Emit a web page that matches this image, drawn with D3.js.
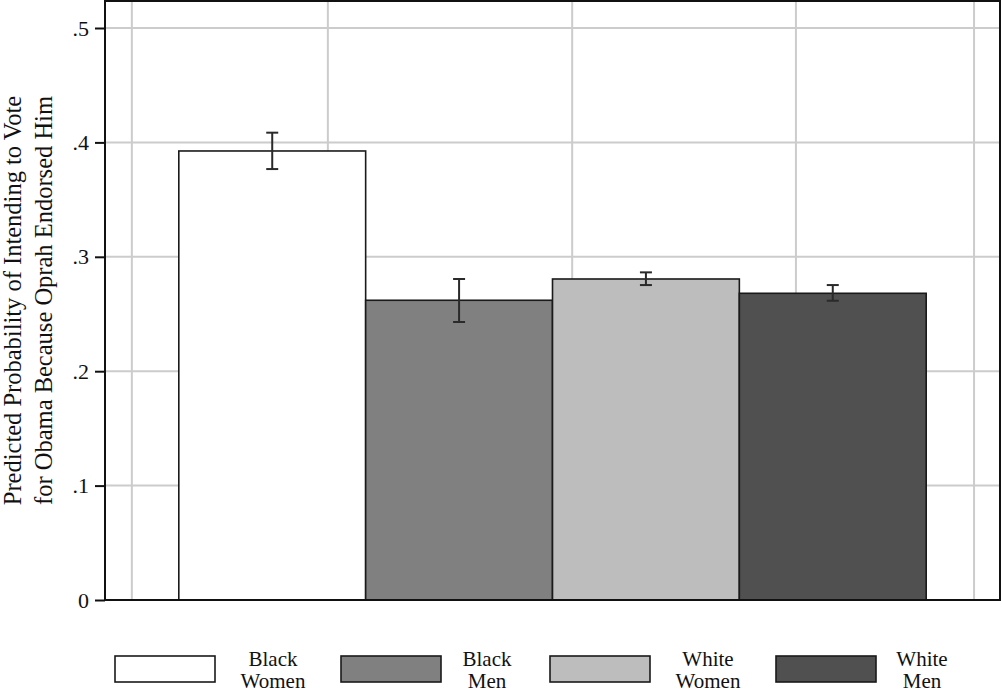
<!DOCTYPE html>
<html>
<head>
<meta charset="utf-8">
<script src="https://cdnjs.cloudflare.com/ajax/libs/d3/7.8.5/d3.min.js"></script>
<style>
  body { margin: 0; background: #fff; }
  svg { display: block; }
</style>
</head>
<body>
<div id="chart"><svg></svg></div>
<script>
(function() {

  var width = 1002, height = 690;
  var margin = { top: 1, left: 105, right: 2, bottom: 90 };
  var serif = "'Liberation Serif', 'Times New Roman', 'DejaVu Serif', serif";

  // data
  var groups = ["Black Women", "Black Men", "White Women", "White Men"];
  var estimates = [0.3925, 0.262, 0.2806, 0.2681];
  var ciLow = [0.3767, 0.243, 0.2753, 0.2616];
  var ciHigh = [0.4085, 0.2806, 0.2864, 0.2753];
  var yTicks = [0, 0.1, 0.2, 0.3, 0.4, 0.5];
  var yTickLabels = ["0", ".1", ".2", ".3", ".4", ".5"];
  var fills = ["#ffffff", "#808080", "#bdbdbd", "#505050"];

  var plotW = width - margin.left - margin.right;
  var plotH = 600 - margin.top;

  var svg = d3.select("#chart").select("svg")
    .attr("width", width)
    .attr("height", height)
    .attr("font-family", serif);

  var g = svg.append("g")
    .attr("transform", "translate(" + margin.left + "," + margin.top + ")");

  var yScale = d3.scaleLinear()
    .domain([0, 0.5])
    .range([plotH, 28 - margin.top]);

  var xBand = d3.scaleBand()
    .domain(groups)
    .range([0, plotW])
    .paddingInner(0)
    .paddingOuter(0.395);

  // vertical grid lines (placed unevenly in the original)
  var xGrid = d3.scaleLinear().domain([0, 1]).range([0, plotW]);
  var gridX = [0.030, 0.249, 0.522, 0.772, 0.971];

  g.append("g").attr("class", "grid-x")
    .selectAll("line")
    .data(gridX)
    .enter().append("line")
    .attr("x1", function(d) { return xGrid(d); })
    .attr("x2", function(d) { return xGrid(d); })
    .attr("y1", 0)
    .attr("y2", plotH)
    .attr("stroke", "#cccccc")
    .attr("stroke-width", 2);

  g.append("g").attr("class", "grid-y")
    .selectAll("line")
    .data(yTicks.slice(1))
    .enter().append("line")
    .attr("x1", 0)
    .attr("x2", plotW)
    .attr("y1", function(d) { return yScale(d); })
    .attr("y2", function(d) { return yScale(d); })
    .attr("stroke", "#cccccc")
    .attr("stroke-width", 2);

  // bars
  g.selectAll("rect.bar")
    .data(groups)
    .enter().append("rect")
    .attr("class", "bar")
    .attr("x", function(d) { return xBand(d); })
    .attr("width", xBand.bandwidth())
    .attr("y", function(d, i) { return yScale(estimates[i]); })
    .attr("height", function(d, i) { return plotH - yScale(estimates[i]); })
    .attr("fill", function(d, i) { return fills[i]; })
    .attr("stroke", "#1a1a1a")
    .attr("stroke-width", 1.6);

  // error bars
  var capHalf = 6;
  var err = g.append("g").attr("class", "errors")
    .selectAll("g")
    .data(groups)
    .enter().append("g")
    .attr("stroke", "#2a2a2a")
    .attr("stroke-width", 2);

  err.append("line")
    .attr("x1", function(d) { return xBand(d) + xBand.bandwidth() / 2; })
    .attr("x2", function(d) { return xBand(d) + xBand.bandwidth() / 2; })
    .attr("y1", function(d, i) { return yScale(ciLow[i]); })
    .attr("y2", function(d, i) { return yScale(ciHigh[i]); });

  [ciLow, ciHigh].forEach(function(arr) {
    err.append("line")
      .attr("x1", function(d) { return xBand(d) + xBand.bandwidth() / 2 - capHalf; })
      .attr("x2", function(d) { return xBand(d) + xBand.bandwidth() / 2 + capHalf; })
      .attr("y1", function(d, i) { return yScale(arr[i]); })
      .attr("y2", function(d, i) { return yScale(arr[i]); });
  });

  // frame
  g.append("rect")
    .attr("x", 0)
    .attr("y", 0)
    .attr("width", plotW)
    .attr("height", plotH)
    .attr("fill", "none")
    .attr("stroke", "#111")
    .attr("stroke-width", 2);

  // y axis
  var yAxis = d3.axisLeft(yScale)
    .tickValues(yTicks)
    .tickFormat(function(d, i) { return yTickLabels[i]; })
    .tickSize(10)
    .tickPadding(6);

  var ya = g.append("g")
    .attr("class", "axis y-axis")
    .call(yAxis)
    .attr("font-family", serif)
    .attr("font-size", 22);
  ya.select(".domain").remove();
  ya.selectAll(".tick line").attr("stroke", "#111").attr("stroke-width", 2);
  ya.selectAll(".tick text").attr("fill", "#111");

  // y title
  var title = svg.append("text")
    .attr("transform", "translate(0," + (margin.top + plotH / 2) + ") rotate(-90)")
    .attr("text-anchor", "middle")
    .attr("font-family", serif)
    .attr("font-size", 24.5)
    .attr("fill", "#111");
  title.append("tspan").attr("x", 0).attr("y", 21)
    .text("Predicted Probability of Intending to Vote");
  title.append("tspan").attr("x", 0).attr("y", 52)
    .text("for Obama Because Oprah Endorsed Him");

  // legend
  var legendX = [115, 341, 550, 776];
  var legend = svg.append("g").attr("class", "legend")
    .selectAll("g")
    .data(groups)
    .enter().append("g")
    .attr("transform", function(d, i) { return "translate(" + legendX[i] + ",656)"; });

  legend.append("rect")
    .attr("width", 100)
    .attr("height", 26)
    .attr("fill", function(d, i) { return fills[i]; })
    .attr("stroke", "#1a1a1a")
    .attr("stroke-width", 1.6);

  var lt = legend.append("text")
    .attr("text-anchor", "middle")
    .attr("font-family", serif)
    .attr("font-size", 21)
    .attr("fill", "#111");
  lt.append("tspan")
    .attr("x", function(d, i) { return i % 2 === 0 ? 158 : 146; })
    .attr("y", 10)
    .text(function(d) { return d.split(" ")[0]; });
  lt.append("tspan")
    .attr("x", function(d, i) { return i % 2 === 0 ? 158 : 146; })
    .attr("y", 32)
    .text(function(d) { return d.split(" ")[1]; });

})();
</script>
</body>
</html>
